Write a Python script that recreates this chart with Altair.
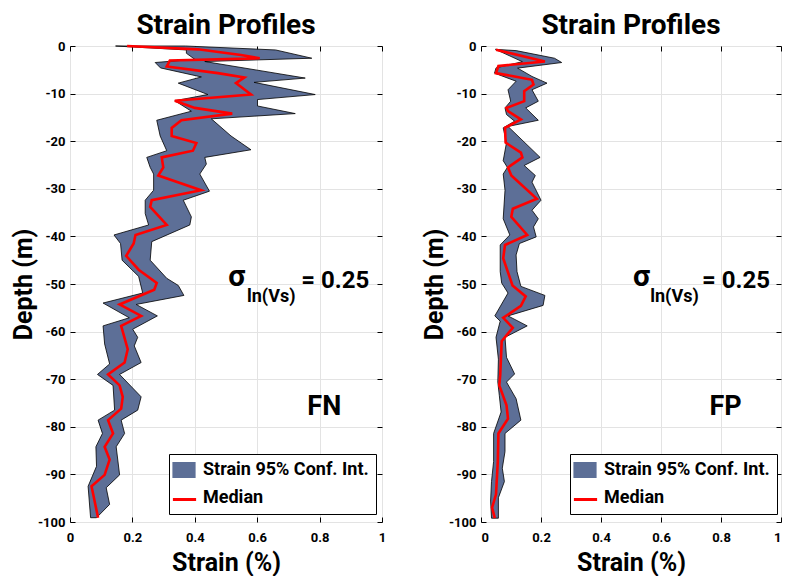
import altair as alt
import pandas as pd

FONT = "Roboto"
BAND = "#5d6f97"
CI = "Strain 95% Conf. Int."
MED = "Median"

# ---------------- FN panel ----------------
fn_lo_depth = [0, -0.83, -1.53, -2.8, -3.47, -4.6, -6.5, -7.8, -10.2, -11.5,
               -13.7, -15.6, -18.9, -22.0, -23.4, -25.5, -26.9, -30.3, -32.4, -35.2,
               -37.6, -39.7, -41.5, -45.0, -48.4, -51.9, -54.0, -57.1, -58.8, -62.6,
               -66.8, -69.0, -71.3, -76.5, -78.6, -81.4, -84.2, -88.3, -92.5, -99.1]
fn_lo_strain = [0.146, 0.373, 0.373, 0.40, 0.273, 0.29, 0.421, 0.347, 0.442, 0.336,
                0.389, 0.278, 0.289, 0.31, 0.246, 0.257, 0.268, 0.268, 0.241, 0.241,
                0.252, 0.141, 0.162, 0.167, 0.22, 0.233, 0.106, 0.19, 0.106, 0.111,
                0.127, 0.088, 0.138, 0.143, 0.09, 0.104, 0.083, 0.085, 0.058, 0.066]
fn_up_depth = [0, -0.83, -2.57, -3.26, -6.74, -7.64, -10.2, -11.25, -12.6, -14.2,
               -15.3, -18.9, -21.8, -23.4, -24.8, -26.9, -30.5, -32.4, -35.9, -37.6,
               -41.1, -45.0, -48.8, -50.3, -52.4, -54.3, -56.7, -59.5, -61.2, -63.0,
               -66.5, -69.0, -73.7, -76.5, -78.6, -81.4, -84.2, -90.1, -92.8, -96.3,
               -99.1]
fn_up_strain = [0.37, 0.659, 0.775, 0.432, 0.754, 0.59, 0.786, 0.601, 0.601, 0.722,
                0.453, 0.516, 0.58, 0.432, 0.437, 0.416, 0.447, 0.363, 0.389, 0.384,
                0.262, 0.257, 0.31, 0.347, 0.365, 0.212, 0.28, 0.201, 0.217, 0.206,
                0.228, 0.159, 0.228, 0.217, 0.164, 0.175, 0.148, 0.159, 0.116, 0.127,
                0.085]
fn_med_depth = [0, -0.7, -1.9, -2.57, -3.06, -4.3, -5.7, -6.6, -7.8, -10.2,
                -11.5, -13.0, -14.2, -15.6, -17.2, -18.9, -20.4, -22.0, -23.4, -25.5,
                -27.2, -30.3, -32.4, -33.8, -37.6, -39.7, -41.5, -44.1, -47.0, -49.8,
                -51.2, -54.3, -56.7, -58.8, -63.7, -66.5, -69.0, -71.3, -73.7, -76.2,
                -78.6, -81.4, -84.2, -86.9, -90.1, -92.5, -99.1]
fn_med_strain = [0.183, 0.41, 0.548, 0.608, 0.32, 0.31, 0.474, 0.559, 0.532, 0.58,
                 0.336, 0.40, 0.52, 0.357, 0.326, 0.326, 0.405, 0.394, 0.294, 0.299,
                 0.283, 0.42, 0.262, 0.257, 0.31, 0.21, 0.204, 0.18, 0.22, 0.278,
                 0.27, 0.159, 0.228, 0.164, 0.185, 0.175, 0.122, 0.159, 0.169, 0.164,
                 0.122, 0.138, 0.111, 0.127, 0.111, 0.069, 0.09]

# ---------------- FP panel ----------------
fp_lo_depth = [-0.7, -3.3, -4.6, -5.7, -7.4, -9.2, -11.6, -13.0, -14.4, -15.8,
               -17.2, -20.3, -24.1, -25.5, -26.9, -30.3, -36.3, -39.7, -41.8, -47.4,
               -49.8, -51.9, -56.7, -57.8, -61.2, -65.8, -70.6, -73.4, -76.9, -81.4,
               -87.3, -91.5, -95.6, -99.2]
fp_lo_strain = [0.048, 0.138, 0.05, 0.045, 0.117, 0.09, 0.099, 0.08, 0.085, 0.112,
                0.074, 0.085, 0.074, 0.088, 0.074, 0.08, 0.074, 0.096, 0.064, 0.064,
                0.069, 0.09, 0.046, 0.064, 0.05, 0.058, 0.056, 0.061, 0.067, 0.042,
                0.042, 0.035, 0.032, 0.035]
fp_up_depth = [-0.7, -0.97, -2.57, -3.47, -4.65, -6.4, -7.8, -9.2, -11.6, -13.0,
               -15.6, -16.9, -23.4, -25.1, -27.2, -28.6, -32.4, -34.5, -36.3, -38.0,
               -40.1, -41.5, -43.9, -47.4, -50.5, -52.4, -54.5, -56.7, -58.8, -61.2,
               -65.4, -68.9, -70.6, -74.1, -78.6, -81.4, -85.2, -88.7, -91.5, -94.9,
               -99.2]
fp_up_strain = [0.048, 0.117, 0.245, 0.269, 0.122, 0.17, 0.22, 0.17, 0.191, 0.149,
                0.191, 0.09, 0.197, 0.144, 0.181, 0.17, 0.2, 0.17, 0.191, 0.175,
                0.184, 0.128, 0.117, 0.12, 0.133, 0.213, 0.207, 0.09, 0.154, 0.08,
                0.085, 0.112, 0.085, 0.117, 0.133, 0.08, 0.08, 0.071, 0.078, 0.058,
                0.058]
fp_med_depth = [-0.8, -3.26, -4.2, -5.7, -6.4, -7.1, -8.1, -9.5, -11.6, -13.0,
                -13.7, -15.4, -17.2, -20.3, -22.4, -23.4, -25.5, -27.2, -32.1, -34.2,
                -35.9, -39.7, -41.8, -44.6, -50.3, -52.6, -54.6, -57.1, -59.2, -62.0,
                -69.2, -71.3, -75.5, -78.3, -81.4, -87.3, -94.2, -97.0, -99.2]
fp_med_strain = [0.05, 0.213, 0.058, 0.05, 0.112, 0.17, 0.175, 0.144, 0.144, 0.085,
                 0.09, 0.133, 0.08, 0.082, 0.133, 0.138, 0.09, 0.101, 0.186, 0.106,
                 0.101, 0.154, 0.08, 0.074, 0.105, 0.149, 0.133, 0.074, 0.106, 0.069,
                 0.064, 0.061, 0.085, 0.09, 0.058, 0.056, 0.05, 0.037, 0.046]

x_ticks = [0, 0.2, 0.4, 0.6, 0.8, 1]
y_ticks = [0, -10, -20, -30, -40, -50, -60, -70, -80, -90, -100]

SQ = "M-1.45,-1L1.45,-1L1.45,1L-1.45,1Z"
LN = "M-1.45,0L1.45,0"

HEIGHT = 476


def band_df(lo_d, lo_s, up_d, up_s):
    d = list(lo_d) + list(reversed(up_d)) + [lo_d[0]]
    s = list(lo_s) + list(reversed(up_s)) + [lo_s[0]]
    return pd.DataFrame({"depth": d, "strain": s, "i": list(range(len(d))),
                         "series": [CI] * len(d)})


def med_df(d, s):
    return pd.DataFrame({"depth": d, "strain": s, "i": list(range(len(d))),
                         "series": [MED] * len(d)})


def panel(band, med, tag, width, flush, leg_x):
    xs = alt.Scale(domain=[0, 1], nice=False, zero=False)
    ys = alt.Scale(domain=[-100, 0], nice=False, zero=False)
    lab = dict(labelFont=FONT, labelFontSize=13, labelFontWeight="bold", labelColor="black")
    ttl = dict(titleFont=FONT, titleFontSize=25, titleFontWeight="bold", titleColor="black")
    main_x = alt.Axis(orient="bottom", values=x_ticks, format="~g", title="Strain (%)",
                      grid=True, gridColor="#e3e3e3", ticks=False, domain=False,
                      labelPadding=9, titlePadding=6, labelFlush=flush, minExtent=0,
                      **lab, **ttl)
    main_y = alt.Axis(orient="left", values=y_ticks, labelExpr="toString(datum.value)",
                      title="Depth (m)", grid=True, gridColor="#e3e3e3", ticks=False,
                      domain=False, labelPadding=5, titlePadding=1, minExtent=0,
                      **lab, **ttl)
    tick_common = dict(labels=False, grid=False, domain=False, ticks=True, tickSize=5,
                       tickColor="black", tickWidth=1, title=None, offset=-5,
                       minExtent=0, maxExtent=0)
    bx = alt.Axis(orient="bottom", values=x_ticks, **tick_common)
    ly = alt.Axis(orient="left", values=y_ticks, **tick_common)
    tx = alt.Axis(orient="top", values=x_ticks, **tick_common)
    ry = alt.Axis(orient="right", values=y_ticks, **tick_common)

    leg_common = dict(title=None, orient="none", legendX=leg_x, legendY=HEIGHT - 68,
                      padding=7, labelFont=FONT, labelFontSize=18, labelFontWeight="bold",
                      labelLimit=0, symbolSize=256, rowPadding=10, labelOffset=10,
                      symbolOffset=-1)
    fill_legend = alt.Legend(fillColor="white", strokeColor="black", labelColor="black",
                             symbolType=SQ, symbolStrokeWidth=0, symbolOpacity=1,
                             **leg_common)
    stroke_legend = alt.Legend(labelColor="transparent", labelExpr="' '", symbolType=LN,
                               symbolStrokeWidth=3, symbolOpacity=1, **leg_common)

    band_layer = alt.Chart(band).mark_line(
        stroke="black", strokeWidth=0.8, fillOpacity=1
    ).encode(
        x=alt.X("strain:Q", scale=xs, axis=main_x),
        y=alt.Y("depth:Q", scale=ys, axis=main_y),
        order="i:Q",
        fill=alt.Fill("series:N", scale=alt.Scale(domain=[CI, MED], range=[BAND, "white"]),
                      legend=fill_legend),
    )
    med_layer = alt.Chart(med).mark_line(strokeWidth=2.6).encode(
        x=alt.X("strain:Q", scale=xs, axis=bx),
        y=alt.Y("depth:Q", scale=ys, axis=ly),
        order="i:Q",
        stroke=alt.Stroke("series:N",
                          scale=alt.Scale(domain=["_", MED], range=["transparent", "red"]),
                          legend=stroke_legend),
    )
    ann = pd.DataFrame({
        "t": ["σ", "ln(Vs)", "= 0.25", tag],
        "x": [0.535, 0.645, 0.85, 0.815],
        "y": [-50.4, -53.8, -50.8, -77.5],
        "fs": [30, 18, 24, 27],
    })
    ann_layer = alt.Chart(ann).mark_text(
        font=FONT, fontWeight="bold", color="black", baseline="alphabetic"
    ).encode(
        x=alt.X("x:Q", scale=xs, axis=tx),
        y=alt.Y("y:Q", scale=ys, axis=ry),
        text="t:N",
        size=alt.Size("fs:Q", scale=None, legend=None),
    )
    return alt.layer(band_layer, med_layer, ann_layer).resolve_axis(
        x="independent", y="independent"
    ).properties(
        width=width, height=HEIGHT,
        title=alt.TitleParams("Strain Profiles", font=FONT, fontSize=28,
                              fontWeight="bold", color="black", anchor="middle", offset=0),
    )


left = panel(band_df(fn_lo_depth, fn_lo_strain, fn_up_depth, fn_up_strain),
             med_df(fn_med_depth, fn_med_strain), "FN", 312, False, 99)
right = panel(band_df(fp_lo_depth, fp_lo_strain, fp_up_depth, fp_up_strain),
              med_df(fp_med_depth, fp_med_strain), "FP", 300, True, 89)

chart = alt.hconcat(left, right, spacing=35).resolve_scale(
    fill="independent", stroke="independent"
).resolve_legend(
    fill="independent", stroke="independent"
).properties(
    padding={"left": 3, "top": 3, "right": 0, "bottom": 0}
).configure_view(stroke="black", strokeWidth=1).configure(background="white")

chart.save("out.html", embed_options={"renderer": "svg", "actions": False})
